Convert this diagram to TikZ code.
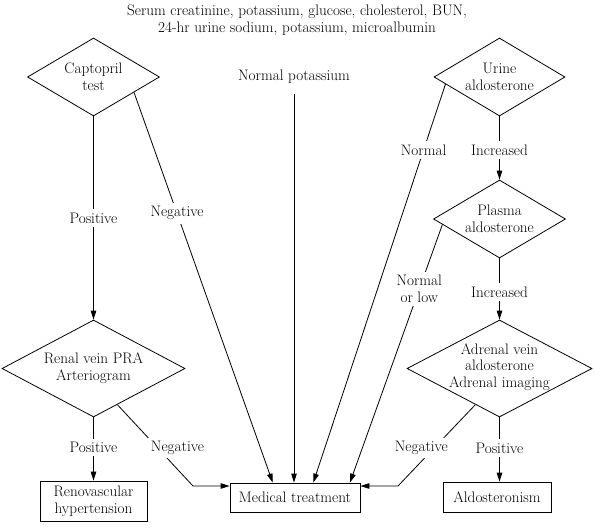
\documentclass[tikz,border=0pt]{standalone}
\usetikzlibrary{shapes.geometric,arrows.meta,calc}
\begin{document}
\begin{tikzpicture}[x=1pt,y=-1pt,
  every node/.style={font=\fontsize{15.2}{16.8}\selectfont},
  dmd/.style={diamond, draw, line width=0.8pt, inner sep=0pt},
  txt/.style={align=center, inner sep=0pt},
  lbl/.style={fill=white, inner sep=3.5pt, align=center},
  box/.style={draw, line width=0.8pt, inner sep=0pt, align=center},
  arr/.style={line width=0.8pt, -{Triangle[length=9pt,width=5.5pt]}},
  ln/.style={line width=0.8pt}]
\useasboundingbox (0,0) rectangle (595,530);

\node[txt] (hdr) at (297,20) {Serum creatinine, potassium, glucose, cholesterol, BUN,\\24-hr urine sodium, potassium, microalbumin};

\node[dmd, minimum width=132pt, minimum height=78pt] (capt) at (93.5,77) {};
\node[txt] (captT) at (capt) {Captopril\\test};

\node[txt, inner sep=2pt] (npot) at (294,77) {Normal potassium};

\node[dmd, minimum width=131pt, minimum height=78pt] (urine) at (499.5,77) {};
\node[txt] (urineT) at (urine) {Urine\\aldosterone};

\node[dmd, minimum width=132pt, minimum height=78pt] (plasma) at (499.5,219) {};
\node[txt] (plasmaT) at (plasma) {Plasma\\aldosterone};

\node[dmd, minimum width=185pt, minimum height=97pt] (adr) at (499.5,368.5) {};
\node[txt] (adrT) at (499.5,367) {Adrenal vein\\aldosterone\\Adrenal imaging};

\node[dmd, minimum width=183pt, minimum height=97pt] (renal) at (93.5,368.5) {};
\node[txt] (renalT) at (93.5,368) {Renal vein PRA\\Arteriogram};

\node[box, minimum width=107pt, minimum height=40pt] (reno) at (93.5,501) {Renovascular\\hypertension};
\node[box, minimum width=130pt, minimum height=29pt] (med) at (295,497.5) {Medical treatment};
\node[box, minimum width=108pt, minimum height=30pt] (aldo) at (497,497) {Aldosteronism};

% captopril branches
\draw[arr] (capt.south) -- node[lbl,pos=.5]{Positive} (renal.north);
\coordinate (mA) at ($(med.north west)!0.33!(med.north east)$);
\draw[arr] ($(capt.east)!0.39!(capt.south)$) -- node[lbl,pos=.31]{Negative} (mA);

% normal potassium
\draw[arr, shorten <=8pt] (npot.south) -- (npot.south |- med.north);

% urine aldosterone
\coordinate (mB) at ($(med.north west)!0.64!(med.north east)$);
\draw[arr] ($(urine.west)!0.18!(urine.south)$) -- node[lbl,pos=.165]{Normal} (mB);
\draw[arr] (urine.south) -- node[lbl,pos=.53]{Increased} (plasma.north);

% plasma aldosterone
\coordinate (mC) at ($(med.north west)!0.92!(med.north east)$);
\draw[arr] ($(plasma.west)!0.14!(plasma.south)$) -- node[lbl,pos=.25]{Normal\\or low} (mC);
\draw[arr] (plasma.south) -- node[lbl,pos=.55]{Increased} (adr.north);

% adrenal vein
\coordinate (bR) at (398,486);
\draw[arr] ($(adr.south)!0.26!(adr.west)$) -- node[lbl,pos=.53,xshift=-13pt]{Negative} (bR) -- (med.east |- bR);
\draw[arr] (adr.south) -- node[lbl,pos=.48]{Positive} (adr.south |- aldo.north);

% renal vein
\coordinate (bL) at (193,486);
\draw[arr] ($(renal.south)!0.26!(renal.east)$) -- node[lbl,pos=.53,xshift=20pt]{Negative} (bL) -- (med.west |- bL);
\draw[arr] (renal.south) -- node[lbl,pos=.48]{Positive} (reno.north);
\end{tikzpicture}
\end{document}
